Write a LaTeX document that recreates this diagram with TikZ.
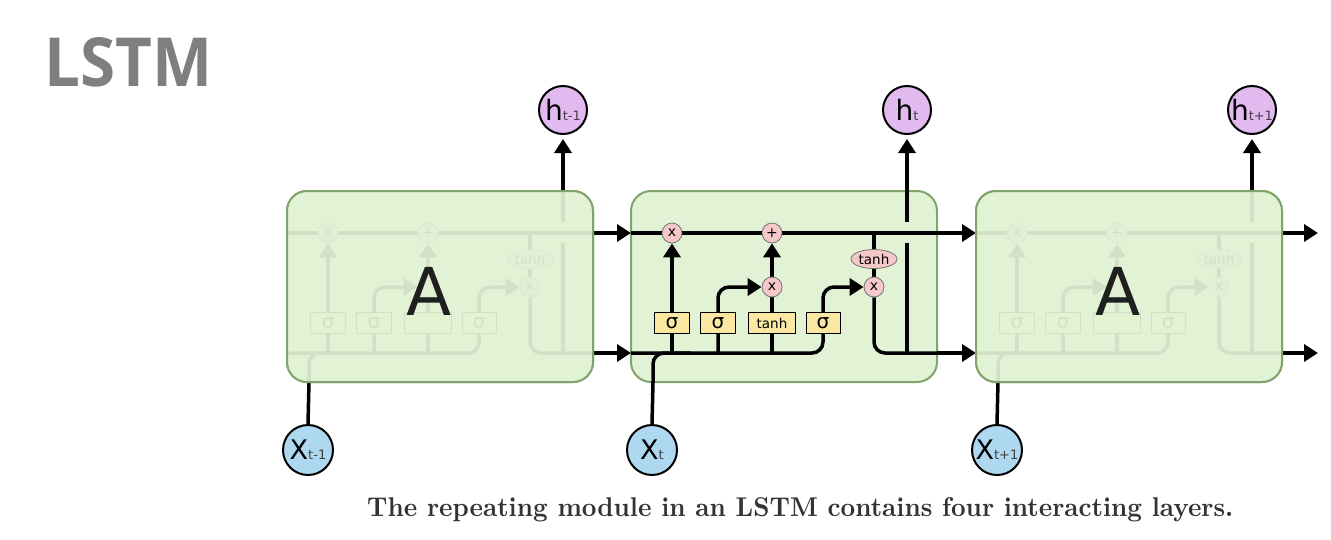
\documentclass[tikz,border=0pt]{standalone}
\usepackage{fontspec}
\usetikzlibrary{arrows.meta,shapes.geometric,calc}
\newfontfamily\dvfont{DejaVu Sans}
\newfontfamily\titlefont{Open Sans}
\definecolor{cellfill}{RGB}{226,243,213}
\definecolor{cellstroke}{RGB}{128,164,108}
\definecolor{hfill}{RGB}{226,186,240}
\definecolor{xfill}{RGB}{174,215,240}
\definecolor{pwfill}{RGB}{247,200,202}
\definecolor{gatefill}{RGB}{250,232,162}
\definecolor{titlegray}{RGB}{127,127,127}
\pgfdeclarelayer{boxlayer}
\pgfdeclarelayer{linelayer}
\pgfdeclarelayer{veil}
\pgfdeclarelayer{toplayer}
\pgfsetlayers{boxlayer,linelayer,main,veil,toplayer}
\tikzset{
  conn/.style={line width=3.5pt, draw=black},
  arrowtip/.style={-{Triangle[length=14pt,width=17pt]}},
  gatebox/.style={draw=black, line width=1pt, fill=gatefill, minimum height=21pt, inner sep=0pt},
  pw/.style={circle, draw=black!55, line width=0.8pt, fill=pwfill, minimum size=20pt, inner sep=0pt, font=\dvfont\fontsize{14}{14}\selectfont},
  hcirc/.style={circle, draw=black, line width=2pt, fill=hfill, minimum size=48pt, inner sep=0pt},
  xcirc/.style={circle, draw=black, line width=2pt, fill=xfill, minimum size=50pt, inner sep=0pt},
  cellbox/.style={rounded corners=20pt}
}
\newcommand\sigfont{\dvfont\fontsize{20}{20}\selectfont}
\newcommand\tanhfont{\dvfont\fontsize{13.5}{13.5}\selectfont}
% #1 x shift, #2 prefix, #3 subscript, #4 label of input x, #5 label of candidate gate
\newcommand\lstmcell[5]{%
\begin{scope}[shift={(#1,0)}]
  \begin{pgfonlayer}{boxlayer}
    \fill[cellfill, cellbox] (0,191) rectangle (306,382);
    \draw[cellstroke, line width=2pt, cellbox] (0,191) rectangle (306,382);
  \end{pgfonlayer}
  \coordinate (#2cin) at (0,233);
  \coordinate (#2cout) at (306,233);
  \coordinate (#2hin) at (0,353);
  \coordinate (#2hout) at (306,353);
  \coordinate (#2top) at (276,191);
  \coordinate (#2bot) at (22,382);
  \node[pw] (#2xf) at (41,233) {x};
  \node[pw] (#2plus) at (141,233) {+};
  \node[pw] (#2xi) at (141,287) {#4};
  \node[pw] (#2xo) at (243,287) {x};
  \node[ellipse, draw=black!55, line width=0.8pt, fill=pwfill, minimum width=46pt, minimum height=19pt, inner sep=0pt, font=\tanhfont] (#2th) at (243,259) {tanh};
  \node[gatebox, minimum width=35pt, font=\sigfont] (#2g1) at (41,323) {σ};
  \node[gatebox, minimum width=35pt, font=\sigfont] (#2g2) at (87,323) {σ};
  \node[gatebox, minimum width=47pt, font=\tanhfont] (#2g3) at (141,323) {#5};
  \node[gatebox, minimum width=34pt, font=\sigfont] (#2g4) at (192,323) {σ};
  \node[hcirc] (#2h) at (276,110) {\dvfont\fontsize{28}{28}\selectfont h\color{black!75}\fontsize{13}{13}\selectfont #3};
  \node[xcirc] (#2x) at (21,450) {\dvfont\fontsize{27}{27}\selectfont X\color{black!75}\fontsize{13}{13}\selectfont #3};
  \begin{pgfonlayer}{linelayer}
    \draw[conn] (#2cin) -- (#2cout);
    \draw[conn, rounded corners=11pt] (#2bot) |- (60,353);
    \draw[conn, arrowtip, rounded corners=11pt] (#2hin) -| (192,287) -- (#2xo.west);
    \draw[conn, arrowtip] (#2g1.south |- #2hin) -- (#2xf.south);
    \draw[conn, arrowtip, rounded corners=11pt] (#2g2.south |- #2hin) |- (#2xi.west);
    \draw[conn] (#2xi.center |- #2hin) -- (#2xi.south);
    \draw[conn, arrowtip] (#2xi.north) -- (#2plus.south);
    \draw[conn] (#2xo.center |- #2cin) -- (#2th.north);
    \draw[conn] (#2th.south) -- (#2xo.north);
    \draw[conn, rounded corners=11pt] (#2xo.south) |- (#2hout);
    \draw[conn] (#2top |- #2hin) -- (276,243);
    \draw[conn] (276,222) -- (#2top);
  \end{pgfonlayer}
  \draw[conn, arrowtip, shorten >=4pt] (#2top) -- (#2h.south);
  \draw[conn] (#2x.north) -- (#2bot);
\end{scope}}
\newcommand\veilcell[2]{%
\begin{scope}[shift={(#1,0)}]
  \begin{pgfonlayer}{veil}
    \fill[cellfill, fill opacity=0.93, cellbox] (0,191) rectangle (306,382);
    \draw[cellstroke, line width=2pt, cellbox] (0,191) rectangle (306,382);
  \end{pgfonlayer}
  \begin{pgfonlayer}{toplayer}
    \node[inner sep=0pt, text=black!88, font=\dvfont\fontsize{66}{66}\selectfont] (#2A) at (142,291) {A};
  \end{pgfonlayer}
\end{scope}}
\begin{document}
\begin{tikzpicture}[x=1pt,y=-1pt]
\useasboundingbox (0,0) rectangle (1331,539);
\lstmcell{287}{L}{t-1}{}{}
\lstmcell{631}{M}{t}{x}{tanh}
\lstmcell{976}{R}{t+1}{}{}
\veilcell{287}{L}
\veilcell{976}{R}
\coordinate (endc) at (1318,233);
\coordinate (endh) at (1318,353);
\draw[conn, arrowtip] (Lcout) -- (Mcin);
\draw[conn, arrowtip] (Lhout) -- (Mhin);
\draw[conn, arrowtip] (Mcout) -- (Rcin);
\draw[conn, arrowtip] (Mhout) -- (Rhin);
\draw[conn, arrowtip] (Rcout) -- (endc);
\draw[conn, arrowtip] (Rhout) -- (endh);
\node[anchor=base west, inner sep=0pt, text=titlegray] (title) at (44,86) {\resizebox{168pt}{49pt}{\titlefont\bfseries LSTM}};
\node[anchor=base west, inner sep=0pt, text=black!80] (caption) at (367,516) {\resizebox{866pt}{19pt}{\bfseries The repeating module in an LSTM contains four interacting layers.}};
\end{tikzpicture}
\end{document}
